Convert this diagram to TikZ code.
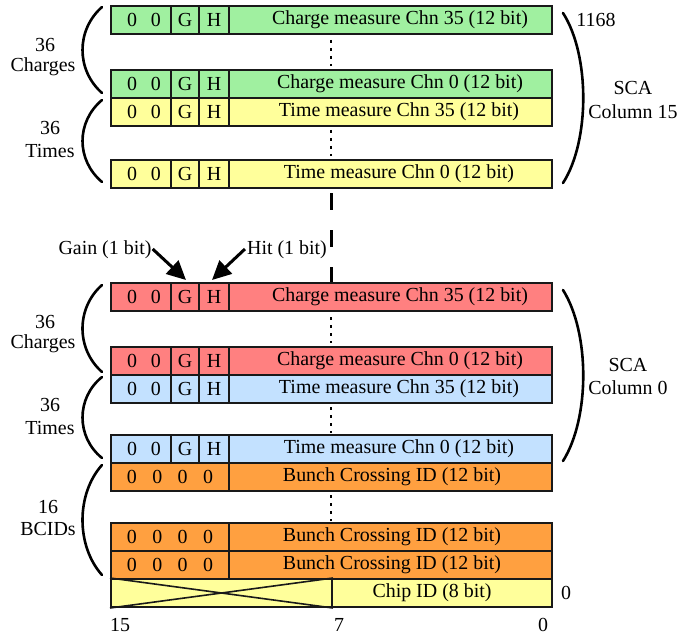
\documentclass[tikz,border=0pt]{standalone}
\usepackage{fontspec}
\setmainfont{Liberation Serif}
\usetikzlibrary{arrows.meta}
\definecolor{cgreen}{RGB}{160,240,160}
\definecolor{cyellow}{RGB}{255,255,155}
\definecolor{cred}{RGB}{255,128,128}
\definecolor{cblue}{RGB}{195,225,255}
\definecolor{corange}{RGB}{255,160,64}
\definecolor{cline}{RGB}{25,25,25}
\newcommand{\ghrow}[5]{%
  \node[cell,fill=#3,minimum width=60bp] (#1z) at (141,#2) {\hspace*{6bp}0\hspace{14bp}0};
  \node[cell,fill=#3,minimum width=28bp] (#1g) at (185,#2) {G};
  \node[cell,fill=#3,minimum width=30bp] (#1h) at (214,#2) {H};
  \node[cell,fill=#3,minimum width=323bp] (#1l) at (390.5,#2) {\hspace*{#5}#4};
}
\newcommand{\bcrow}[2]{%
  \node[cell,fill=corange,minimum width=118bp] (#1z) at (170,#2) {0\hspace{15.5bp}0\hspace{15.5bp}0\hspace{15.5bp}0};
  \node[cell,fill=corange,minimum width=323bp] (#1l) at (390.5,#2) {\hspace*{3bp}Bunch Crossing ID (12 bit)};
}
\begin{document}
\begin{tikzpicture}[x=1bp,y=-1bp,
  cell/.style={draw=cline, line width=2bp, inner sep=0pt, minimum height=28bp,
    font=\fontsize{20}{24}\selectfont},
  txt/.style={inner sep=0pt, font=\fontsize{20}{24}\selectfont},
  brace/.style={line width=2.6bp, line cap=round},
  dotline/.style={line width=2.6bp, dash pattern=on 3bp off 5bp},
  dashline/.style={line width=3bp, dash pattern=on 17bp off 20bp},
  bitarrow/.style={line width=3bp, -{Triangle[length=19bp,width=18bp]}}]
\useasboundingbox (0,0) rectangle (694,640);

% ---- SCA column 15 ----
\ghrow{a}{20}{cgreen}{Charge measure Chn 35 (12 bit)}{19bp}
\ghrow{b}{84}{cgreen}{Charge measure Chn 0 (12 bit)}{19bp}
\ghrow{c}{112}{cyellow}{Time measure Chn 35 (12 bit)}{17bp}
\ghrow{d}{174}{cyellow}{Time measure Chn 0 (12 bit)}{17bp}

% ---- SCA column 0 ----
\ghrow{e}{297}{cred}{Charge measure Chn 35 (12 bit)}{19bp}
\ghrow{f}{361}{cred}{Charge measure Chn 0 (12 bit)}{19bp}
\ghrow{g}{389}{cblue}{Time measure Chn 35 (12 bit)}{17bp}
\ghrow{h}{449}{cblue}{Time measure Chn 0 (12 bit)}{17bp}
\bcrow{i}{477}
\bcrow{j}{537}
\bcrow{k}{565}

% chip id row
\node[cell,fill=cyellow,minimum width=221bp] (chipx) at (221.5,593) {};
\draw[line width=1.6bp,cline] (chipx.north west) -- (chipx.south east);
\draw[line width=1.6bp,cline] (chipx.south west) -- (chipx.north east);
\node[cell,fill=cyellow,minimum width=220bp] (chipl) at (442,593) {Chip ID (8 bit)\hspace*{20bp}};

% dotted continuations
\draw[dotline] (331,40) -- (331,66);
\draw[dotline] (331,130) -- (331,156);
\draw[dotline] (331,317) -- (331,343);
\draw[dotline] (331,407) -- (331,433);
\draw[dotline] (331,495) -- (331,521);
% dashed gap between columns
\draw[dashline] (331,193) -- (331,282);

% left braces
\draw[brace] (102,7) .. controls (76,30) and (76,70) .. (102,93);
\draw[brace] (102,100) .. controls (76,122) and (76,160) .. (102,182);
\draw[brace] (102,285) .. controls (76,308) and (76,349) .. (102,372);
\draw[brace] (102,377) .. controls (76,398) and (76,437) .. (102,458);
\draw[brace] (102,465) .. controls (76,494) and (76,546) .. (102,575);

% right braces
\draw[brace] (563,13) .. controls (590,55) and (590,141) .. (563,183);
\draw[brace] (563,290) .. controls (590,333) and (590,418) .. (563,461);

% left labels
\node[txt] (l1a) at (45,45) {36};
\node[txt] (l1b) at (43,67) {Charges};
\node[txt] (l2a) at (50,128) {36};
\node[txt] (l2b) at (50,151) {Times};
\node[txt] (l3a) at (45,322) {36};
\node[txt] (l3b) at (43,344) {Charges};
\node[txt] (l4a) at (50,405) {36};
\node[txt] (l4b) at (50,428) {Times};
\node[txt] (l5a) at (48,507) {16};
\node[txt] (l5b) at (48,529) {BCIDs};

% right labels
\node[txt] (r1n) at (596,20) {1168};
\node[txt] (r1a) at (633,88) {SCA};
\node[txt] (r1b) at (633,112) {Column 15};
\node[txt] (r2a) at (628,365) {SCA};
\node[txt] (r2b) at (628,388) {Column 0};
\node[txt] (r3) at (566,593) {0};

% bit indices
\node[txt] (b15) at (120,625) {15};
\node[txt] (b7) at (339,625) {7};
\node[txt] (b0) at (543,625) {0};

% gain / hit annotations
\node[txt] (gain) at (105,250) {Gain (1 bit)};
\node[txt] (hit) at (287,250) {Hit (1 bit)};
\coordinate (gtip) at (186,280);
\coordinate (htip) at (212,280);
\draw[bitarrow] ([xshift=1bp,yshift=1bp]gain.east) -- (gtip);
\draw[bitarrow] ([xshift=-2bp,yshift=1bp]hit.west) -- (htip);
\end{tikzpicture}
\end{document}
